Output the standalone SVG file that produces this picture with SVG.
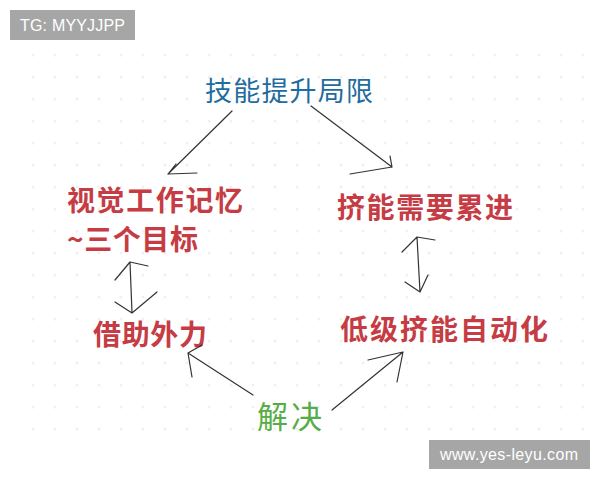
<svg xmlns="http://www.w3.org/2000/svg" width="600" height="480" viewBox="0 0 600 480">
<defs>
<pattern id="dots" x="0" y="0" width="22" height="22" patternUnits="userSpaceOnUse">
<circle cx="11" cy="11" r="1.5" fill="#f3eef1"/>
</pattern>
<style>
.red{font-family:"Noto Sans CJK SC","Noto Sans",sans-serif;font-weight:700;font-size:28px;fill:#c63c44}
.title{font-family:"Noto Sans CJK SC","Noto Sans",sans-serif;font-size:27px;fill:#1f6c9e}
.green{font-family:"Noto Sans CJK SC","Noto Sans",sans-serif;font-size:31px;fill:#56ad45}
.wm{font-family:"Liberation Sans","Arial",sans-serif;font-size:16px;fill:#ffffff}
.ln{fill:none;stroke:#333333;stroke-width:1.2;stroke-linecap:round;stroke-linejoin:round}
</style>
</defs>
<rect width="600" height="480" fill="#ffffff"/>
<rect x="30" y="50" width="565" height="395" fill="url(#dots)"/>

<g id="watermark-top">
<rect x="10" y="10" width="125" height="30" fill="#a6a6a6"/>
<text class="wm" x="20" y="31" textLength="105">TG: MYYJJPP</text>
</g>
<g id="watermark-bottom">
<rect x="429" y="440" width="161" height="29" fill="#a6a6a6"/>
<text class="wm" x="440" y="460" textLength="138">www.yes-leyu.com</text>
</g>

<g id="node-limit"><text class="title" x="205" y="101" textLength="168">技能提升局限</text></g>
<g id="node-visual">
<text class="red" x="67" y="211" textLength="176">视觉工作记忆</text>
<text class="red" x="67" y="250" textLength="131">~三个目标</text>
</g>
<g id="node-accumulate"><text class="red" x="337" y="218" textLength="176">挤能需要累进</text></g>
<g id="node-help"><text class="red" x="93" y="345" textLength="114">借助外力</text></g>
<g id="node-auto"><text class="red" x="340" y="340" textLength="208">低级挤能自动化</text></g>
<g id="node-solve"><text class="green" x="257" y="428" textLength="65">解决</text></g>

<g id="connectors">
<path class="ln" d="M232 111 L168 174 M168 174 L197 173 M168 174 L176 164"/>
<path class="ln" d="M311 106 L392 167 M350 174 L392 167 L390 156"/>
<path class="ln" d="M130 262 L132 313 M115 280 L130 262 L148 266 M115 302 L132 313 L157 292"/>
<path class="ln" d="M417 237 L420 292 M402 252 L417 237 L435 240 M405 282 L420 292 L428 275"/>
<path class="ln" d="M253 395 L188 353 M202 345 L188 353 L192 377"/>
<path class="ln" d="M332 410 L403 352 M368 360 L403 352 L397 382"/>
</g>
</svg>
